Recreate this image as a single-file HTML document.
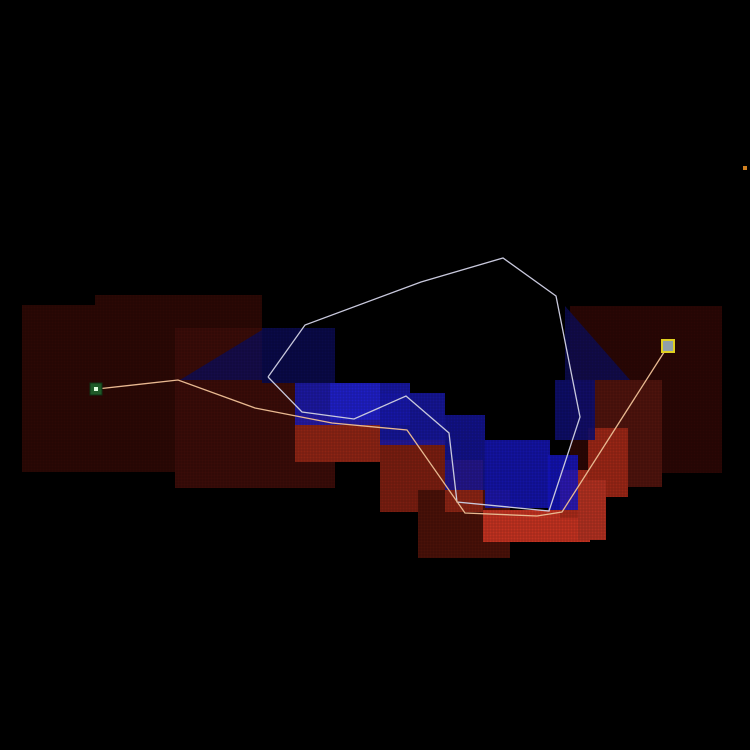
<!DOCTYPE html>
<html><head><meta charset="utf-8"><style>
html,body{margin:0;padding:0;background:#000;width:750px;height:750px;overflow:hidden}
svg{display:block}
</style></head><body>
<svg id="chart" width="750" height="750" viewBox="0 0 750 750" xmlns="http://www.w3.org/2000/svg">
<defs>
<pattern id="grid" width="3" height="3" patternUnits="userSpaceOnUse">
<rect width="3" height="3" fill="none" stroke="#000" stroke-opacity="0.25" stroke-width="0.6"/>
</pattern>
</defs>
<rect width="750" height="750" fill="#000"/>
<g id="cells"></g>
<g id="lines"></g>
<g id="marks"></g>
</svg>
<script>
const cellX0 = [22,95,175,262,570,592,295,380,418,445,483,560,588,578,262,555,295,330,380,445,485,548];
const cellY0 = [305,295,328,328,306,380,415,440,490,460,510,470,428,480,328,380,383,383,393,415,440,455];
const cellX1 = [262,262,335,295,722,662,380,445,510,483,590,606,628,606,335,595,410,380,445,485,550,578];
const cellY1 = [472,305,488,415,473,487,462,512,558,512,542,518,497,540,383,440,425,420,445,490,508,510];
const cellColor = ['#2c0805','#2c0805','#3a0c08','#3a0c08','#2a0705','#4e130d','#8c2414','#7a1d10','#4a1108','#8a2414','#c23220','#a82a1a','#9a2616','#b03020','#0a0a48','#0e0e70','#1a1ab0','#2020c8','#1818a8','#14149a','#1616b8','#1515c8'];
const cellOpacity = [1,1,1,1,1,1,1,1,1,1,1,1,1,1,1,0.9,0.9,0.9,0.88,0.88,0.88,0.85];

const loopX = [268,305,421,503,556,580,549,457,449,406,354,302,268];
const loopY = [377,325,282,258,296,417,511,502,433,396,419,412,377];
const pathX = [97,178,255,332,407,465,537,562,668];
const pathY = [389,380,408,423,430,513,516,512,346];

const NS='http://www.w3.org/2000/svg';
const cells=document.getElementById('cells');
for(let i=0;i<cellX0.length;i++){
  const r=document.createElementNS(NS,'rect');
  r.setAttribute('x',cellX0[i]);r.setAttribute('y',cellY0[i]);
  r.setAttribute('width',cellX1[i]-cellX0[i]);r.setAttribute('height',cellY1[i]-cellY0[i]);
  r.setAttribute('fill',cellColor[i]);r.setAttribute('opacity',cellOpacity[i]);
  
  
  cells.appendChild(r);
}
[[180,380,262,330,262,380],[565,306,630,380,565,380]].forEach(t=>{
  const p=document.createElementNS(NS,'polygon');
  p.setAttribute('points',`${t[0]},${t[1]} ${t[2]},${t[3]} ${t[4]},${t[5]}`);
  p.setAttribute('fill','#0c0c5a');p.setAttribute('opacity','0.8');
  
  
  cells.appendChild(p);
});
const g=document.createElementNS(NS,'rect');
g.setAttribute('width',750);g.setAttribute('height',750);g.setAttribute('fill','url(#grid)');


cells.appendChild(g);

const lines=document.getElementById('lines');
function poly(xs,ys,color,name){
  const p=document.createElementNS(NS,'polyline');
  p.setAttribute('points',xs.map((x,i)=>x+','+ys[i]).join(' '));
  p.setAttribute('fill','none');p.setAttribute('stroke',color);p.setAttribute('stroke-width','1.3');
  
  
  lines.appendChild(p);
}
poly(loopX,loopY,'#c8c8dc','exploration-loop');
poly(pathX,pathY,'#e8b890','planned-path');

const marks=document.getElementById('marks');
marks.innerHTML=
'<rect x="90" y="383" width="12" height="12" fill="#1e5a28" stroke="#0e3014"/>'+
'<rect x="94" y="387" width="4" height="4" fill="#e0ffe0"/>'+
'<rect x="662" y="340" width="12" height="12" fill="#90a0a8" stroke="#e0d020" stroke-width="2"/>'+
'<rect x="743" y="166" width="4" height="4" fill="#d08020"/>';
</script>
</body></html>
